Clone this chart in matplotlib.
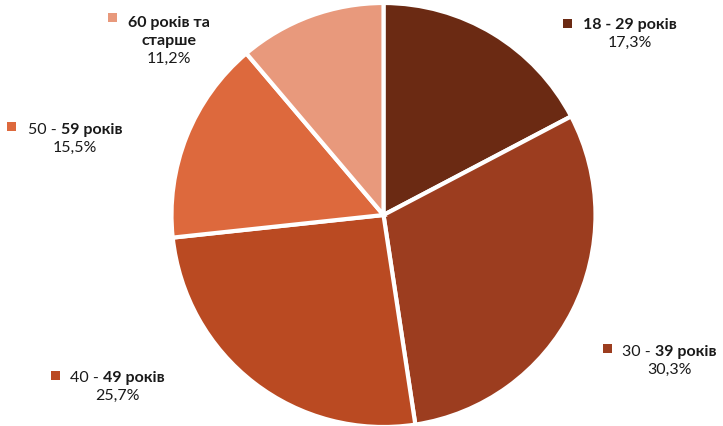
import matplotlib.pyplot as plt
from matplotlib.patches import Rectangle

plt.rcParams['font.family'] = ['Lato', 'DejaVu Sans']

# data
groups = ["18 - 29 років", "30 - 39 років", "40 - 49 років", "50 - 59 років", "60 років та старше"]
shares = [17.3, 30.3, 25.7, 15.5, 11.2]
pct_labels = ["17,3%", "30,3%", "25,7%", "15,5%", "11,2%"]
colors = ["#6B2A13", "#9C3D1F", "#BA4A22", "#DD693D", "#E8997C"]

W, H = 723, 427
fig = plt.figure(figsize=(W / 100, H / 100), dpi=100)

# pie axes: centre ~ (383, 216) px, radius ~212 px
cx, cy, r = 383.5, 216, 212
ax = fig.add_axes([(cx - r) / W, 1 - (cy + r) / H, 2 * r / W, 2 * r / H])
ax.pie(shares, colors=colors, startangle=90, counterclock=False,
       wedgeprops=dict(edgecolor="white", linewidth=3))
ax.set_xlim(-1, 1)
ax.set_ylim(-1, 1)
ax.set_aspect("equal")
ax.axis("off")


def px(x, y):
    return x / W, 1 - y / H


# label layout: (square x, square y, text start x, first baseline y, normal part, bold part, extra lines)
layout = [
    (563, 20, 583, 29, "", "18 - 29 років", []),
    (603, 345, 622, 356, "30 - ", "39 років", []),
    (51, 372, 70, 382, "40 - ", "49 років", []),
    (7, 123, 28, 134, "50 - ", "59 років", []),
    (108, 14, 128, 27, "", "60 років та", ["старше"]),
]
fs = 11.5
line_h = 18

for i, (sx, sy, tx, by, normal, bold, extra) in enumerate(layout):
    fig.patches.append(Rectangle(px(sx, sy + 9), 9 / W, 9 / H, transform=fig.transFigure,
                                 facecolor=colors[i], edgecolor="none"))
    t = fig.text(*px(tx, by), normal, fontsize=fs, color="#1a1a1a", ha="left", va="baseline")
    fig.canvas.draw()
    bb = t.get_window_extent()
    t2 = fig.text(bb.x1 / W if normal else tx / W, 1 - by / H, bold, fontsize=fs,
                  fontweight="bold", color="#1a1a1a", ha="left", va="baseline")
    fig.canvas.draw()
    bb2 = t2.get_window_extent()
    mid = (tx + bb2.x1) / 2
    y = by
    for line in extra:
        y += line_h
        fig.text(*px(mid, y), line, fontsize=fs, fontweight="bold", color="#1a1a1a",
                 ha="center", va="baseline")
    y += line_h
    fig.text(*px(mid, y), pct_labels[i], fontsize=fs, color="#1a1a1a", ha="center", va="baseline")

fig.savefig("out.png", dpi=100)
